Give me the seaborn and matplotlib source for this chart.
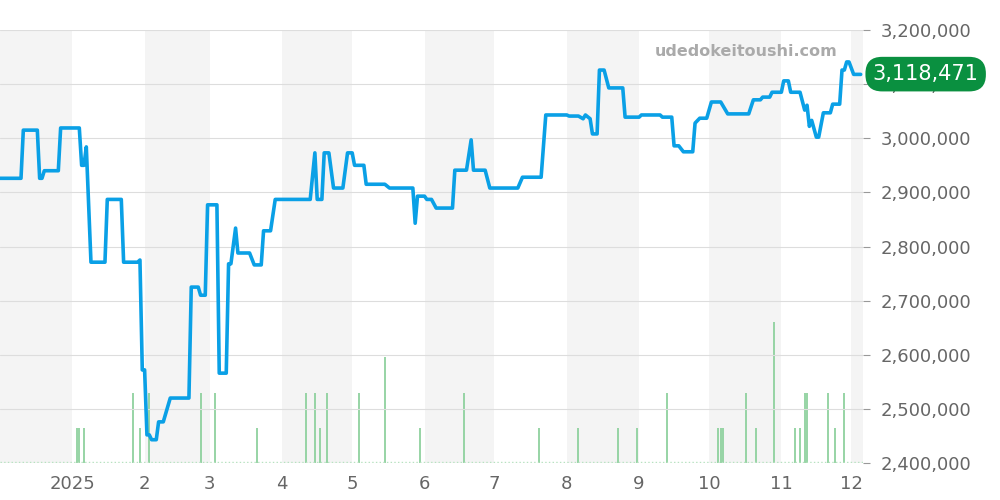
import numpy as np
import pandas as pd
import matplotlib
matplotlib.use("Agg")
import matplotlib.pyplot as plt
import seaborn as sns

# price line: days since 2024-12-01 and price (JPY)
price_days = [0, 9, 10, 16, 17, 18, 19, 25, 26, 34, 35, 36, 37, 39, 45, 46, 52, 53, 59, 60,
              61, 62, 63, 64, 65, 67, 68, 70, 73, 81, 82, 85, 86, 88, 89, 93, 94, 97, 98, 99,
              101, 102, 107, 109, 112, 113, 116, 118, 133, 135, 136, 138, 139, 141, 143, 147,
              149, 151, 152, 156, 157, 165, 167, 177, 178, 179, 182, 183, 185, 187, 194, 195,
              200, 202, 203, 208, 210, 222, 224, 232, 234, 243, 244, 248, 250, 251, 253, 254,
              256, 257, 259, 261, 267, 268, 274, 275, 283, 284, 288, 289, 291, 293, 297, 298,
              300, 303, 305, 309, 312, 321, 323, 326, 327, 330, 331, 335, 336, 338, 339, 343,
              345, 346, 347, 348, 350, 351, 353, 356, 357, 360, 361, 362, 363, 364, 366, 369]
price_vals = [2926000, 2926000, 3015000, 3015000, 2926000, 2926000, 2940000, 2940000, 3019000, 3019000,
              2950000, 2950000, 2984000, 2771000, 2771000, 2887000, 2887000, 2771000, 2771000, 2775000,
              2572000, 2572000, 2452000, 2452000, 2443000, 2443000, 2476000, 2476000, 2520000, 2520000,
              2725000, 2725000, 2710000, 2710000, 2877000, 2877000, 2566000, 2566000, 2768000, 2768000,
              2834000, 2788000, 2788000, 2766000, 2766000, 2829000, 2829000, 2887000, 2887000, 2973000,
              2887000, 2887000, 2973000, 2973000, 2908000, 2908000, 2973000, 2973000, 2950000, 2950000,
              2915000, 2915000, 2908000, 2908000, 2843000, 2893000, 2893000, 2887000, 2887000, 2871000,
              2871000, 2941000, 2941000, 2997000, 2941000, 2941000, 2908000, 2908000, 2928000, 2928000,
              3043000, 3043000, 3041000, 3041000, 3036000, 3043000, 3036000, 3008000, 3008000, 3126000,
              3126000, 3093000, 3093000, 3039000, 3039000, 3043000, 3043000, 3039000, 3039000, 2986000,
              2986000, 2975000, 2975000, 3028000, 3037000, 3037000, 3067000, 3067000, 3045000, 3045000,
              3071000, 3071000, 3076000, 3076000, 3085000, 3085000, 3106000, 3106000, 3085000, 3085000,
              3052000, 3061000, 3022000, 3033000, 3002000, 3002000, 3047000, 3047000, 3063000, 3063000,
              3126000, 3126000, 3141000, 3141000, 3118000, 3118000]

# trade counts
vol_days = [33, 34, 36, 57, 60, 64, 86, 92, 110, 131, 135, 137, 140, 154, 165, 180, 199, 231,
            248, 265, 273, 286, 308, 309, 310, 320, 324, 332, 341, 343, 345, 346, 355, 358, 362]
vol_vals = [1, 1, 1, 2, 1, 2, 2, 2, 1, 2, 2, 1, 2, 2, 3, 1, 2, 1,
            1, 1, 1, 2, 1, 1, 1, 2, 1, 4, 1, 1, 2, 2, 2, 1, 2]

month_labels = ["2025", "2", "3", "4", "5", "6", "7", "8", "9", "10", "11", "12"]
last_price = 3118471

start = pd.Timestamp("2024-12-01")
df = pd.DataFrame({"date": start + pd.to_timedelta(price_days, unit="D"), "price": price_vals})
vdf = pd.DataFrame({"date": start + pd.to_timedelta(vol_days, unit="D"), "vol": vol_vals})

sns.set_style("white")
fig = plt.figure(figsize=(10, 5), dpi=100)
ax = fig.add_axes([0, 0.074, 0.863, 0.866])
xmin, xmax = pd.Timestamp("2024-12-01"), pd.Timestamp("2025-12-06")
months = pd.date_range("2024-12-01", "2026-01-01", freq="MS")

# volume axis sits behind the price axis and carries the month bands
ax2 = ax.twinx()
for i in range(0, len(months) - 1, 2):
    ax2.axvspan(months[i], months[i + 1], color="#f4f4f4", zorder=0, lw=0)
ax2.vlines(vdf["date"], 0, vdf["vol"], color="#8fd19e", lw=1.3, zorder=2)
ax2.axhline(0.03, color="#b5e3bf", lw=1, ls=":", zorder=2)
ax2.set_ylim(0, 800000 / 65000)
ax2.set_xlim(xmin, xmax)
ax2.axis("off")

ax.set_zorder(ax2.get_zorder() + 1)
ax.patch.set_visible(False)
sns.lineplot(data=df, x="date", y="price", ax=ax, color="#0aa0e6", lw=2.6, zorder=3)

ax.set_xlim(xmin, xmax)
ax.set_ylim(2400000, 3200000)
ax.set_yticks(np.arange(2400000, 3200001, 100000))
ax.yaxis.tick_right()
ax.yaxis.set_major_formatter(matplotlib.ticker.FuncFormatter(lambda v, p: f"{int(v):,}"))
ax.grid(axis="y", color="#dddddd", lw=0.8)
ax.set_xticks(months[1:13])
ax.set_xticklabels(month_labels)
ax.tick_params(axis="both", labelsize=13, labelcolor="#666666", color="#999999", length=5)
ax.tick_params(axis="y", pad=8)
ax.set_xlabel("")
ax.set_ylabel("")
for s in ax.spines.values():
    s.set_visible(False)

ax.text(0.97, 0.95, "udedokeitoushi.com", transform=ax.transAxes, ha="right", va="center",
        fontsize=11.5, fontweight="bold", color="#aaaaaa")
ax.annotate(f"{last_price:,}", xy=(1.0, last_price), xycoords=("axes fraction", "data"),
            xytext=(7, 0), textcoords="offset points", ha="left", va="center",
            fontsize=15, color="white", zorder=10,
            bbox=dict(boxstyle="round,pad=0.35,rounding_size=0.8", fc="#0a9040", ec="none"))

fig.savefig("out.png", dpi=100)
